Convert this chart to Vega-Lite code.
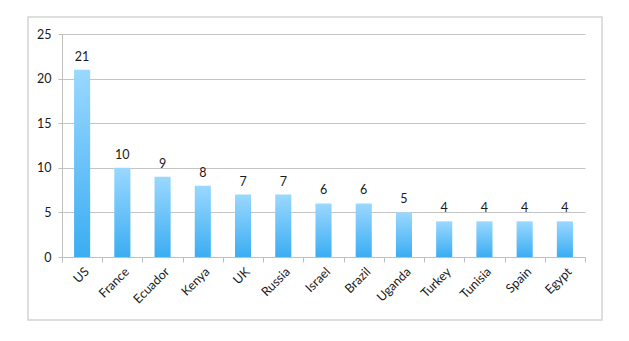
{
  "$schema": "https://vega.github.io/schema/vega-lite/v6.json",
  "width": 574,
  "height": 303,
  "padding": {"left": 28, "top": 17, "right": 27, "bottom": 21},
  "background": "white",
  "config": {
    "view": {"stroke": "#d4d4d4", "strokeWidth": 1.5},
    "font": "Lato"
  },
  "data": {
    "values": [
      {"country": "US", "count": 21},
      {"country": "France", "count": 10},
      {"country": "Ecuador", "count": 9},
      {"country": "Kenya", "count": 8},
      {"country": "UK", "count": 7},
      {"country": "Russia", "count": 7},
      {"country": "Israel", "count": 6},
      {"country": "Brazil", "count": 6},
      {"country": "Uganda", "count": 5},
      {"country": "Turkey", "count": 4},
      {"country": "Tunisia", "count": 4},
      {"country": "Spain", "count": 4},
      {"country": "Egypt", "count": 4}
    ]
  },
  "encoding": {
    "x": {
      "field": "country",
      "type": "nominal",
      "sort": null,
      "scale": {"range": [34, 557], "paddingInner": 0, "paddingOuter": 0},
      "axis": {
        "title": null,
        "orient": "bottom",
        "offset": -63,
        "labelAngle": -45,
        "tickBand": "extent",
        "tickSize": 5,
        "tickColor": "#bfbfbf",
        "domainColor": "#bfbfbf",
        "grid": false,
        "labelFontSize": 12.5,
        "labelColor": "#1a1a1a",
        "labelPadding": 3
      }
    },
    "y": {
      "field": "count",
      "type": "quantitative",
      "scale": {"domain": [0, 25], "range": [240, 17], "nice": false},
      "axis": {
        "title": null,
        "offset": -34,
        "values": [0, 5, 10, 15, 20, 25],
        "tickSize": 4,
        "tickColor": "#bfbfbf",
        "domainColor": "#bfbfbf",
        "gridColor": "#c4c4c4",
        "labelFontSize": 12.5,
        "labelColor": "#1a1a1a",
        "labelPadding": 7
      }
    }
  },
  "layer": [
    {
      "mark": {
        "type": "bar",
        "width": {"band": 0.4},
        "fill": {
          "gradient": "linear",
          "x1": 0, "y1": 0, "x2": 0, "y2": 1,
          "stops": [
            {"offset": 0, "color": "#9ad8ff"},
            {"offset": 1, "color": "#3badf2"}
          ]
        }
      }
    },
    {
      "mark": {"type": "text", "baseline": "alphabetic", "dy": -9, "fontSize": 12.5, "color": "#1a1a1a"},
      "encoding": {"text": {"field": "count", "type": "quantitative"}}
    }
  ]
}
